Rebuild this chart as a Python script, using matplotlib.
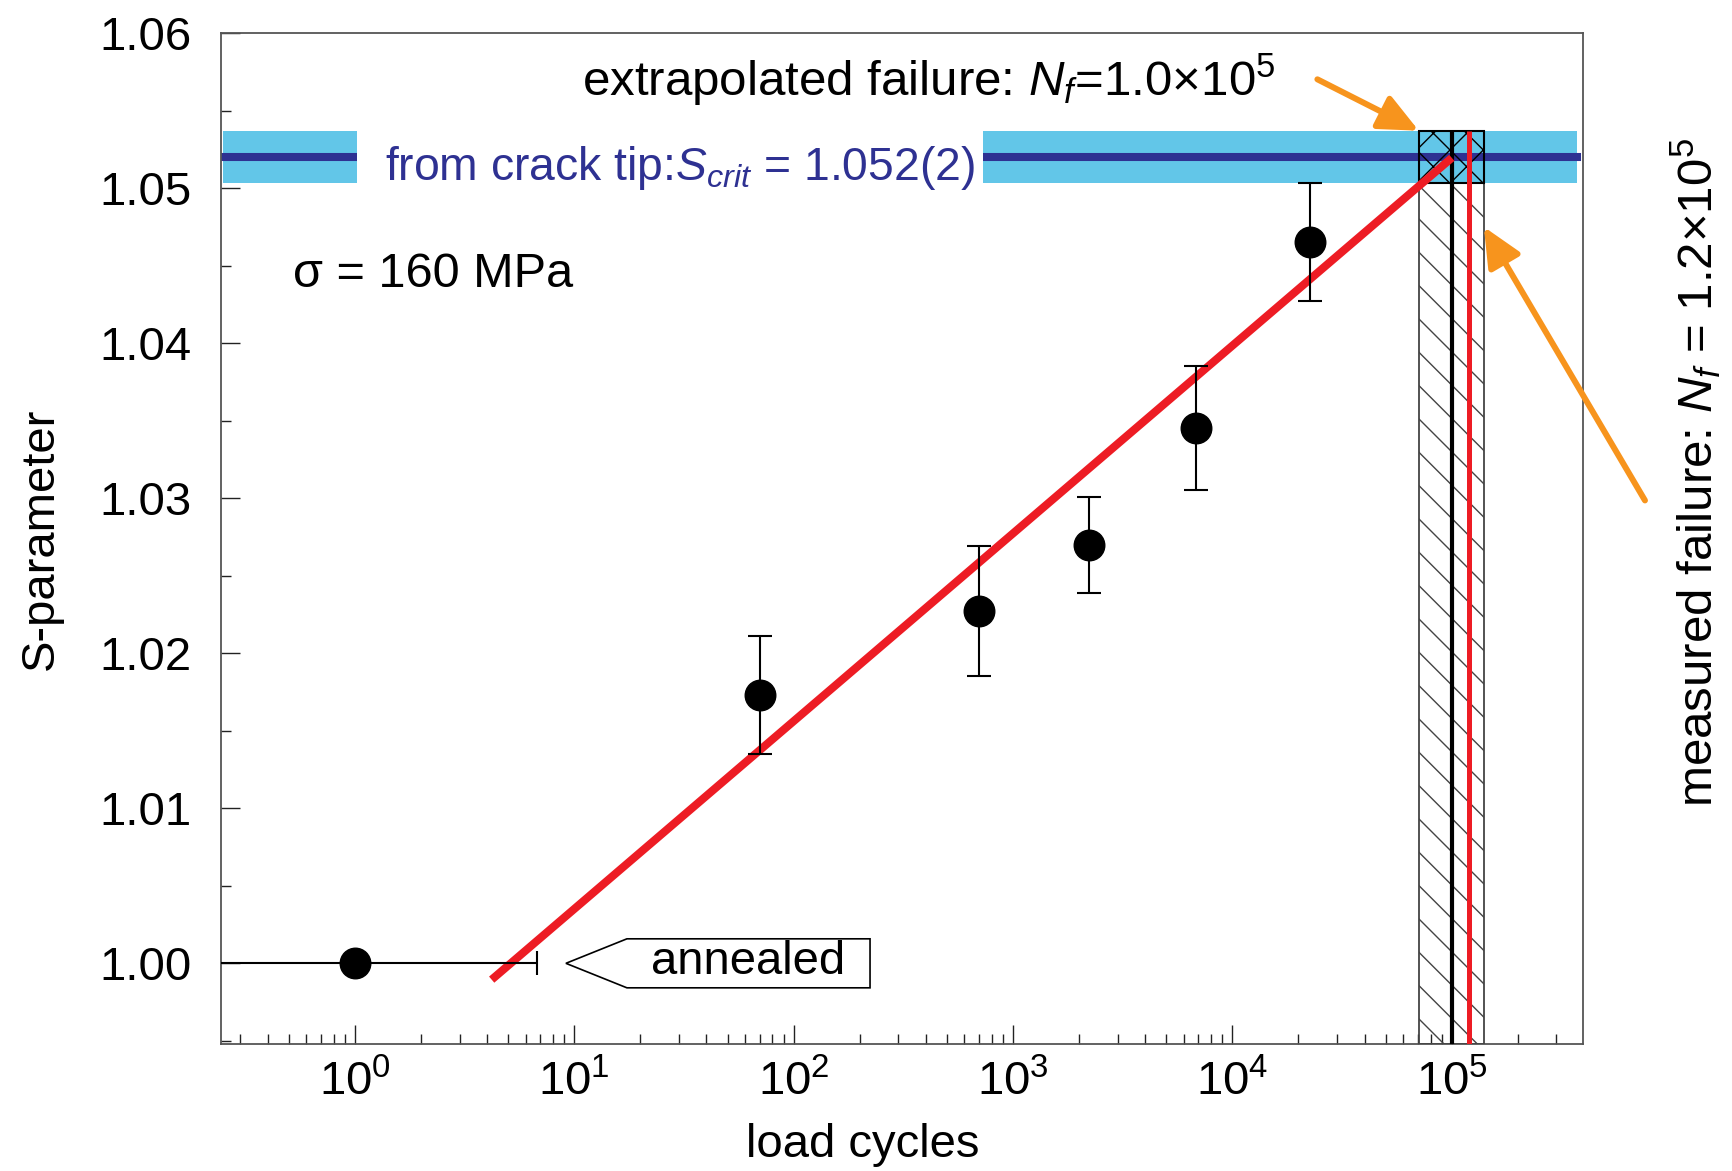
import matplotlib
matplotlib.use('Agg')
import matplotlib.pyplot as plt
import numpy as np
from matplotlib.patches import Polygon, Rectangle
from matplotlib.transforms import IdentityTransform
from matplotlib.ticker import MultipleLocator, FormatStrFormatter, NullFormatter

plt.rcParams['font.family'] = ['Liberation Sans', 'DejaVu Sans']
plt.rcParams['mathtext.fontset'] = 'custom'
plt.rcParams['mathtext.rm'] = 'Liberation Sans'
plt.rcParams['mathtext.it'] = 'Liberation Sans:italic'
plt.rcParams['hatch.linewidth'] = 1.0

# S-parameter vs. number of load cycles, sigma = 160 MPa
cycles = np.array([70, 700, 2230, 6800, 22500])
s_param = np.array([1.0173, 1.0227, 1.0270, 1.0345, 1.0465])
s_err = np.array([0.0038, 0.0042, 0.0031, 0.0040, 0.0038])

# annealed reference state, shown at N = 1
anneal_n = 1.0
anneal_s = 1.000
anneal_n_range = (0.148, 6.76)

# critical S-parameter from the crack tip
s_crit = 1.052
s_crit_err = 0.0017

# logarithmic fit S = a + b*log10(N)
fit_a = 0.9914
fit_b = 0.01211
fit_range = (4.2, 1.0e5)

# number of cycles to failure
nf_extrap = 1.0e5
nf_extrap_range = (7.07e4, 1.40e5)
nf_measured = 1.2e5

RED = '#ed1c24'
ORANGE = '#f7941d'
LIGHT_BLUE = '#62c6e8'
DARK_BLUE = '#2e3192'
FS = 34

fig = plt.figure(figsize=(17.33, 11.71), dpi=100)
ax = fig.add_axes([0.1275, 0.1085, 0.7859, 0.8633])
ax.set_xscale('log')
ax.set_xlim(0.245, 3.96e5)
ax.set_ylim(0.9948, 1.06)
y_bot = ax.get_ylim()[0]

# critical band
ax.axhspan(s_crit - s_crit_err, s_crit + s_crit_err, xmin=0.0015, xmax=0.996,
           color=LIGHT_BLUE, lw=0, zorder=1)
ax.axhline(s_crit, xmin=0.0015, xmax=0.996, color=DARK_BLUE, lw=5.8, zorder=2)

# extrapolated failure range (hatched)
lo, hi = nf_extrap_range
ax.add_patch(Rectangle((lo, y_bot), hi - lo, (s_crit - s_crit_err) - y_bot,
                       fill=False, hatch='\\', edgecolor='#444444', lw=1.3, zorder=3))
ax.add_patch(Rectangle((lo, s_crit - s_crit_err), hi - lo, 2 * s_crit_err,
                       fill=False, hatch='x', edgecolor='black', lw=1.5, zorder=3))
ax.vlines(nf_extrap, y_bot, s_crit + s_crit_err, color='black', lw=3, zorder=4)
ax.vlines(nf_measured, y_bot, s_crit + s_crit_err, color=RED, lw=3.6, zorder=4)

# fit line
n_fit = np.array(fit_range)
ax.plot(n_fit, fit_a + fit_b * np.log10(n_fit), color=RED, lw=5.8,
        solid_capstyle='butt', zorder=5)

# data points
ax.errorbar(cycles, s_param, yerr=s_err, fmt='o', color='black', ms=22,
            capsize=8.6, elinewidth=1.5, capthick=1.5, zorder=6)
ax.errorbar([anneal_n], [anneal_s],
            xerr=[[anneal_n - anneal_n_range[0]], [anneal_n_range[1] - anneal_n]],
            fmt='o', color='black', ms=22, capsize=8.6, elinewidth=1.5,
            capthick=1.5, zorder=6)

# axes styling
ax.yaxis.set_major_locator(MultipleLocator(0.01))
ax.yaxis.set_minor_locator(MultipleLocator(0.005))
ax.yaxis.set_major_formatter(FormatStrFormatter('%.2f'))
ax.xaxis.set_minor_formatter(NullFormatter())
ax.tick_params(which='both', direction='in', top=False, right=False,
               width=1, color='#222222', labelsize=FS)
ax.tick_params(which='major', length=14)
ax.tick_params(which='minor', length=7)
ax.tick_params(axis='y', pad=21)
ax.tick_params(axis='x', pad=12)
for sp in ax.spines.values():
    sp.set_color('#555555')
    sp.set_linewidth(1.3)

ax.set_xlabel('load cycles', fontsize=FS)
ax.set_ylabel('S-parameter', fontsize=FS)
ax.xaxis.set_label_coords(0.471, -0.078)
ax.yaxis.set_label_coords(-0.116, 0.5)

# annotations
ax.text(0.265, 0.9377, r'extrapolated failure: $N_f$=1.0×10$^{5}$',
        transform=ax.transAxes, fontsize=35.5, ha='left', va='baseline')
crit_txt = ax.text(0.1204, 0.8546, r'from crack tip:$S_{crit}$ = 1.052(2)',
                   transform=ax.transAxes, fontsize=33.3, color=DARK_BLUE,
                   ha='left', va='baseline', zorder=8)
ax.text(0.0529, 0.7488, 'σ = 160 MPa', transform=ax.transAxes, fontsize=35,
        ha='left', va='baseline')
ax.text(1.083, 0.2344, r'measured failure: $N_f$ = 1.2×10$^{5}$',
        transform=ax.transAxes, fontsize=35.5, rotation=90, ha='center',
        va='bottom', clip_on=False)
anneal_txt = ax.annotate('annealed', xy=(anneal_n_range[1], anneal_s),
                         xytext=(82, -8), textcoords='offset points',
                         fontsize=FS, ha='left', va='baseline', zorder=8)

arrow_kw = dict(arrowstyle='-|>,head_length=1.2,head_width=0.55', color=ORANGE,
                lw=4.3, shrinkA=0, shrinkB=0, mutation_scale=20)
ax.annotate('', xy=(lo, s_crit + s_crit_err), xytext=(-73, 37),
            textcoords='offset points', arrowprops=arrow_kw, zorder=9)
ax.annotate('', xy=(hi, 1.0475), xytext=(116, -197),
            textcoords='offset points', arrowprops=arrow_kw,
            annotation_clip=False, zorder=9)

# shapes built around the rendered text
fig.canvas.draw()
r = fig.canvas.get_renderer()

bb = crit_txt.get_window_extent(r)
y0 = ax.transData.transform((1, s_crit - s_crit_err))[1] - 1
y1 = ax.transData.transform((1, s_crit + s_crit_err))[1] + 1
ax.add_patch(Rectangle((bb.x0 - 28, y0), bb.width + 36, y1 - y0,
                       transform=IdentityTransform(), facecolor='white',
                       edgecolor='none', zorder=2.5))

bb = anneal_txt.get_window_extent(r)
yc = ax.transData.transform((1, anneal_s))[1]
bx0, bx1, h = bb.x0 - 24, bb.x1 + 25, 24.5
ax.add_patch(Polygon([(bx0 - 61, yc), (bx0, yc + h), (bx1, yc + h),
                      (bx1, yc - h), (bx0, yc - h)], closed=True,
                     transform=IdentityTransform(), facecolor='white',
                     edgecolor='black', lw=1.2, zorder=7))

fig.savefig('out.png', dpi=100)
